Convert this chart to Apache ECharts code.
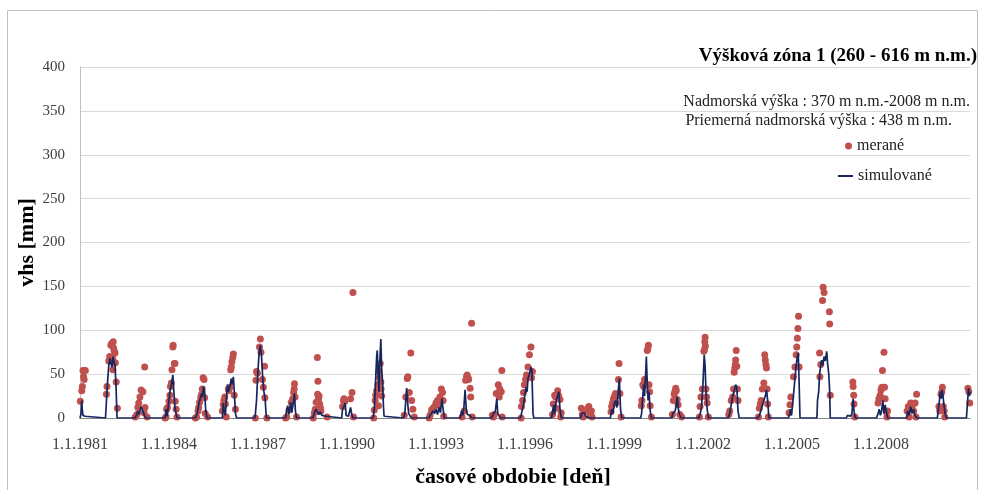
<!DOCTYPE html>
<html>
<head>
<meta charset="utf-8">
<script src="https://cdn.jsdelivr.net/npm/echarts@6/dist/echarts.min.js"></script>
<style>html,body{margin:0;padding:0;background:#fff;}#c{width:981px;height:490px;}</style>
</head>
<body>
<div id="c"></div>
<script>
// ---- data (decimal year, value in mm) ----
var startYear = 1981;
var xTickYears = [1981, 1984, 1987, 1990, 1993, 1996, 1999, 2002, 2005, 2008];
var yTicks = [0, 50, 100, 150, 200, 250, 300, 350, 400];

var measured = [
  [1981.01,19],[1981.06,31],[1981.08,36],[1981.10,54],[1981.12,47],[1981.14,44],[1981.18,54],
  [1981.89,27],[1981.91,36],[1981.97,65],[1982.00,70],[1982.04,83],[1982.07,85],[1982.12,87],[1982.13,80],[1982.15,77],[1982.18,74],[1982.10,68],[1982.19,63],[1982.11,55],[1982.22,41],[1982.26,11],
  [1982.86,1],[1982.92,4],[1982.95,12],[1982.98,17],[1983.02,24],[1983.06,32],[1983.12,30],[1983.18,58],[1983.19,12],[1983.16,6],[1983.26,1],
  [1983.87,0],[1983.90,1],[1983.92,10],[1983.95,12],[1984.00,19],[1984.03,26],[1984.05,36],[1984.08,40],[1984.10,55],[1984.13,81],[1984.14,83],[1984.18,62],[1984.20,62],[1984.21,19],[1984.24,10],[1984.27,1],
  [1984.89,0],[1984.93,1],[1984.98,8],[1985.00,12],[1985.03,18],[1985.07,24],[1985.10,27],[1985.12,33],[1985.15,46],[1985.18,44],[1985.20,23],[1985.22,5],[1985.30,1],
  [1985.80,8],[1985.83,15],[1985.85,20],[1985.88,24],[1985.90,16],[1985.93,1],[1986.00,33],[1986.02,31],[1986.05,35],[1986.08,55],[1986.10,58],[1986.12,64],[1986.15,69],[1986.17,73],[1986.20,26],[1986.24,10],
  [1986.91,0],[1986.93,43],[1986.95,53],[1986.98,51],[1987.05,81],[1987.08,90],[1987.10,75],[1987.15,44],[1987.18,35],[1987.22,59],[1987.23,23],[1987.30,0],
  [1987.93,0],[1987.97,1],[1988.05,9],[1988.12,18],[1988.17,22],[1988.20,29],[1988.22,33],[1988.23,39],[1988.25,24],[1988.30,1],
  [1988.86,0],[1988.90,6],[1988.93,10],[1988.96,18],[1989.00,69],[1989.01,27],[1989.02,42],[1989.04,22],[1989.06,25],[1989.08,16],[1989.10,12],[1989.12,8],[1989.33,1],
  [1989.85,13],[1989.88,20],[1989.90,22],[1989.93,19],[1990.12,22],[1990.17,29],[1990.20,143],[1990.22,1],
  [1990.90,0],[1990.92,9],[1990.95,20],[1990.97,26],[1991.00,31],[1991.04,38],[1991.06,14],[1991.08,53],[1991.10,46],[1991.12,62],[1991.14,41],[1991.15,33],[1991.17,25],
  [1991.93,3],[1991.98,24],[1992.03,45],[1992.05,47],[1992.10,29],[1992.15,74],[1992.18,20],[1992.22,10],[1992.27,1],
  [1992.77,0],[1992.80,3],[1992.85,9],[1992.90,11],[1992.95,13],[1993.00,17],[1993.05,20],[1993.08,15],[1993.13,24],[1993.18,33],[1993.22,29],[1993.24,20],[1993.26,2],
  [1993.88,1],[1993.95,8],[1994.00,43],[1994.03,47],[1994.05,49],[1994.08,46],[1994.10,44],[1994.15,34],[1994.17,24],[1994.20,108],[1994.22,1],
  [1994.90,3],[1994.93,1],[1994.97,4],[1995.03,28],[1995.10,38],[1995.13,24],[1995.15,33],[1995.20,30],[1995.22,54],[1995.23,1],
  [1995.87,0],[1995.88,13],[1995.92,20],[1995.95,29],[1995.98,38],[1996.02,44],[1996.05,49],[1996.10,58],[1996.15,72],[1996.20,81],[1996.22,46],[1996.25,53],
  [1996.93,4],[1996.95,16],[1997.00,26],[1997.03,24],[1997.05,11],[1997.10,31],[1997.13,26],[1997.18,21],[1997.20,1],[1997.22,6],
  [1997.90,11],[1997.93,4],[1997.96,1],[1998.05,8],[1998.12,11],[1998.15,13],[1998.20,4],[1998.24,8],[1998.26,1],
  [1998.90,7],[1998.92,13],[1998.95,17],[1998.98,22],[1999.02,25],[1999.05,28],[1999.07,17],[1999.10,25],[1999.15,44],[1999.17,62],[1999.20,28],[1999.24,1],
  [1999.92,14],[1999.94,20],[1999.97,38],[2000.00,36],[2000.03,44],[2000.12,77],[2000.14,79],[2000.16,83],[2000.18,38],[2000.20,30],[2000.22,14],[2000.26,1],
  [2000.97,4],[2001.00,20],[2001.03,27],[2001.05,30],[2001.08,34],[2001.10,31],[2001.13,21],[2001.16,15],[2001.22,4],[2001.28,1],
  [2001.88,1],[2001.90,13],[2001.93,24],[2001.98,33],[2002.03,76],[2002.05,78],[2002.06,87],[2002.07,92],[2002.08,82],[2002.10,33],[2002.12,24],[2002.14,17],[2002.18,1],
  [2002.87,4],[2002.90,8],[2002.95,20],[2003.00,24],[2003.03,33],[2003.05,52],[2003.07,57],[2003.09,61],[2003.10,66],[2003.12,77],[2003.14,59],[2003.16,33],[2003.18,20],
  [2003.87,1],[2003.90,11],[2003.93,16],[2003.96,20],[2004.00,33],[2004.05,40],[2004.08,72],[2004.10,66],[2004.12,61],[2004.14,57],[2004.16,33],[2004.18,16],[2004.20,1],
  [2004.90,6],[2004.93,15],[2004.96,24],[2005.05,47],[2005.10,58],[2005.14,72],[2005.16,81],[2005.18,91],[2005.20,102],[2005.22,116],[2005.24,58],
  [2005.93,74],[2005.94,47],[2005.97,61],[2006.03,134],[2006.05,149],[2006.08,143],[2006.26,121],[2006.27,107],[2006.29,26],
  [2007.05,41],[2007.06,36],[2007.08,26],[2007.09,16],[2007.12,1],
  [2007.90,17],[2007.93,22],[2007.97,26],[2008.00,32],[2008.03,35],[2008.05,54],[2008.10,75],[2008.12,35],[2008.14,22],[2008.18,7],[2008.20,1],[2008.22,8],
  [2008.88,8],[2008.92,13],[2008.95,1],[2009.00,17],[2009.05,13],[2009.10,8],[2009.15,17],[2009.18,1],[2009.20,27],
  [2009.95,13],[2009.98,8],[2010.02,27],[2010.05,30],[2010.07,35],[2010.10,13],[2010.13,8],[2010.15,1],
  [2010.93,34],[2010.96,30],[2010.99,17]
];

var simulated = [
  [1981.00,0],[1981.03,4],[1981.06,20],[1981.08,8],[1981.10,3],[1981.13,5],[1981.17,2],[1981.20,0],
  [1981.86,0],[1981.92,37],[1981.97,60],[1982.01,68],[1982.04,62],[1982.08,58],[1982.11,70],[1982.14,65],[1982.18,60],[1982.21,40],[1982.25,0],
  [1982.86,0],[1982.90,3],[1982.95,8],[1983.00,4],[1983.05,13],[1983.10,10],[1983.15,5],[1983.20,0],
  [1983.87,0],[1983.90,10],[1983.94,2],[1983.98,14],[1984.03,30],[1984.08,38],[1984.13,49],[1984.16,32],[1984.20,12],[1984.24,5],[1984.27,0],
  [1984.89,0],[1984.95,5],[1985.00,15],[1985.05,22],[1985.10,28],[1985.13,24],[1985.16,36],[1985.20,30],[1985.24,8],[1985.28,0],
  [1985.80,0],[1985.83,17],[1985.86,8],[1985.90,3],[1985.93,20],[1985.97,38],[1986.00,30],[1986.05,35],[1986.10,45],[1986.13,38],[1986.17,47],[1986.20,30],[1986.24,5],[1986.28,0],
  [1986.90,0],[1986.95,20],[1987.00,55],[1987.04,75],[1987.08,83],[1987.12,70],[1987.16,45],[1987.20,30],[1987.24,22],[1987.28,0],
  [1987.93,0],[1987.96,8],[1988.00,14],[1988.04,4],[1988.10,18],[1988.14,6],[1988.20,20],[1988.23,28],[1988.26,8],[1988.30,0],
  [1988.85,0],[1988.90,6],[1988.95,10],[1989.00,8],[1989.05,4],[1989.10,7],[1989.15,3],[1989.20,1],[1989.30,2],[1989.34,0],
  [1989.82,0],[1989.85,10],[1989.94,17],[1989.97,3],[1990.05,2],[1990.12,12],[1990.16,4],[1990.20,0],
  [1990.88,0],[1990.92,10],[1990.96,40],[1991.00,70],[1991.02,77],[1991.05,50],[1991.08,30],[1991.10,60],[1991.14,90],[1991.17,55],[1991.20,40],[1991.23,12],[1991.25,2],[1991.27,0],
  [1991.90,0],[1991.95,5],[1991.98,20],[1992.01,34],[1992.05,15],[1992.08,5],[1992.12,3],[1992.17,0],
  [1992.76,0],[1992.80,3],[1992.85,2],[1992.90,8],[1992.95,5],[1993.00,10],[1993.05,4],[1993.10,12],[1993.15,6],[1993.20,22],[1993.24,10],[1993.28,0],
  [1993.82,0],[1993.86,8],[1993.90,3],[1993.94,12],[1993.98,32],[1994.02,10],[1994.06,4],[1994.10,2],[1994.15,3],[1994.20,0],
  [1994.88,0],[1994.92,4],[1994.96,2],[1995.00,8],[1995.05,22],[1995.08,6],[1995.12,3],[1995.18,0],
  [1995.85,0],[1995.88,5],[1995.92,3],[1995.95,15],[1995.99,25],[1996.03,35],[1996.07,30],[1996.10,45],[1996.15,50],[1996.20,58],[1996.23,55],[1996.27,5],[1996.30,0],
  [1996.90,0],[1996.93,8],[1996.97,15],[1997.00,4],[1997.05,20],[1997.10,25],[1997.14,30],[1997.18,10],[1997.22,0],
  [1997.88,0],[1997.90,5],[1997.95,3],[1998.00,6],[1998.05,2],[1998.10,4],[1998.15,0],
  [1998.88,0],[1998.92,10],[1998.96,5],[1999.00,15],[1999.05,20],[1999.10,12],[1999.14,30],[1999.18,45],[1999.22,10],[1999.26,0],
  [1999.90,0],[1999.93,5],[1999.96,20],[2000.00,38],[2000.03,25],[2000.06,45],[2000.09,70],[2000.12,40],[2000.15,20],[2000.18,30],[2000.22,8],[2000.26,0],
  [2000.95,0],[2000.98,5],[2001.02,3],[2001.06,8],[2001.10,15],[2001.13,24],[2001.17,10],[2001.21,4],[2001.26,0],
  [2001.86,0],[2001.90,4],[2001.95,12],[2002.00,40],[2002.04,72],[2002.07,60],[2002.10,30],[2002.14,10],[2002.18,0],
  [2002.85,0],[2002.90,5],[2002.95,15],[2003.00,25],[2003.05,30],[2003.10,38],[2003.14,35],[2003.18,8],[2003.22,0],
  [2003.85,0],[2003.90,3],[2003.95,8],[2004.00,15],[2004.05,20],[2004.10,25],[2004.14,32],[2004.18,20],[2004.22,0],
  [2004.88,0],[2004.92,5],[2004.95,10],[2004.98,3],[2005.02,15],[2005.06,30],[2005.10,45],[2005.14,60],[2005.18,70],[2005.21,74],[2005.24,40],[2005.27,0],
  [2005.84,0],[2005.86,20],[2005.90,30],[2005.93,50],[2005.97,60],[2006.00,66],[2006.04,60],[2006.08,70],[2006.12,65],[2006.17,76],[2006.20,62],[2006.24,50],[2006.27,30],[2006.29,0],
  [2006.83,0],[2006.87,3],[2006.92,5],[2006.97,2],[2007.02,5],[2007.06,22],[2007.09,8],[2007.13,0],
  [2007.85,0],[2007.90,5],[2007.94,10],[2007.98,3],[2008.02,8],[2008.06,20],[2008.10,5],[2008.14,15],[2008.18,8],[2008.22,0],
  [2008.86,0],[2008.90,8],[2008.95,3],[2009.00,13],[2009.05,6],[2009.10,10],[2009.15,3],[2009.20,0],
  [2009.90,0],[2009.93,10],[2009.97,20],[2010.00,30],[2010.03,22],[2010.06,32],[2010.09,25],[2010.12,15],[2010.16,5],[2010.20,0],
  [2010.88,0],[2010.92,20],[2010.95,34],[2010.98,25],[2011.00,30]
];

var titleText = 'Výšková zóna 1 (260 - 616 m n.m.)';
var infoLine1 = 'Nadmorská výška : 370 m n.m.-2008 m n.m.';
var infoLine2 = 'Priemerná nadmorská výška : 438 m n.m.';
var seriesNames = ['merané', 'simulované'];

// ---- chart ----
var serif = "'Liberation Serif', 'Times New Roman', serif";
function toOffset(p) { return [p[0] - startYear, p[1]]; }

var chart = echarts.init(document.getElementById('c'), null, {renderer: 'canvas'});
chart.setOption({
  backgroundColor: '#ffffff',
  animation: false,
  grid: {left: 80, right: 11, top: 67, bottom: 72, containLabel: false, outerBoundsMode: 'none'},
  xAxis: {
    type: 'value', min: 0, max: 30, interval: 3,
    name: 'časové obdobie [deň]', nameLocation: 'middle', nameGap: 48, nameMoveOverlap: false,
    nameTextStyle: {fontFamily: serif, fontSize: 22, fontWeight: 'bold', color: '#000', padding: [0, 24, 0, 0]},
    axisLine: {show: true, onZero: false, lineStyle: {color: '#868686', width: 1}},
    axisTick: {show: false},
    splitLine: {show: false},
    axisLabel: {
      margin: 19, fontFamily: serif, fontSize: 16, color: '#404040',
      showMaxLabel: false, showMinLabel: true,
      formatter: function (v) {
        var y = startYear + Math.round(v);
        return xTickYears.indexOf(y) >= 0 ? '1.1.' + y : '';
      }
    }
  },
  yAxis: {
    type: 'value', min: yTicks[0], max: yTicks[yTicks.length - 1], interval: 50,
    name: 'vhs [mm]', nameLocation: 'middle', nameGap: 42, nameMoveOverlap: false,
    nameTextStyle: {fontFamily: serif, fontSize: 22, fontWeight: 'bold', color: '#000'},
    axisLine: {show: true, lineStyle: {color: '#bfbfbf', width: 1}},
    axisTick: {show: false},
    splitLine: {show: true, lineStyle: {color: '#d9d9d9', width: 1}},
    axisLabel: {margin: 15, fontFamily: serif, fontSize: 15, color: '#404040'}
  },
  legend: [
    {
      left: 840, top: 133, itemWidth: 7, itemHeight: 7,
      textStyle: {fontFamily: serif, fontSize: 16, color: '#222'},
      data: [{name: seriesNames[0], icon: 'circle'}]
    },
    {
      left: 833, top: 163, itemWidth: 15, itemHeight: 2,
      textStyle: {fontFamily: serif, fontSize: 16, color: '#222'},
      data: [{name: seriesNames[1], icon: 'rect'}]
    }
  ],
  series: [
    {
      name: seriesNames[0], type: 'scatter', symbol: 'circle', symbolSize: 7,
      itemStyle: {color: '#c0504d', opacity: 1},
      data: measured.map(toOffset), z: 2
    },
    {
      name: seriesNames[1], type: 'line', symbol: 'none', showSymbol: false,
      lineStyle: {color: '#16265e', width: 1.7},
      itemStyle: {color: '#16265e'},
      data: simulated.map(toOffset), z: 3
    }
  ],
  graphic: [
    {type: 'rect', z: -1, shape: {x: 7.5, y: 10.5, width: 970, height: 490},
     style: {fill: 'none', stroke: '#bfbfbf', lineWidth: 1}, silent: true},
    {type: 'text', right: 4, top: 47, style: {text: titleText, font: 'bold 19px ' + serif, fill: '#000', textAlign: 'right'}},
    {type: 'text', right: 11, top: 94, style: {text: infoLine1, font: '16px ' + serif, fill: '#222', textAlign: 'right'}},
    {type: 'text', right: 29, top: 113, style: {text: infoLine2, font: '16px ' + serif, fill: '#222', textAlign: 'right'}}
  ]
});
</script>
</body>
</html>
